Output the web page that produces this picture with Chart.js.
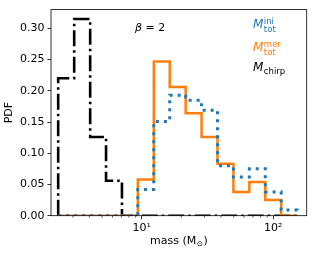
<!DOCTYPE html>
<html lang="en">
<head>
  <meta charset="UTF-8">
  <title>Mass PDF</title>
  <script src="https://cdn.jsdelivr.net/npm/chart.js"></script>
  <style>
    html, body { margin: 0; padding: 0; background: #fff; }
  </style>
</head>
<body>
<canvas id="massPdf" width="315" height="253"></canvas>
<script>
// log-spaced bin edges (mass)
const binEdges = [2.32, 3.07, 4.06, 5.36, 7.08, 9.35, 12.36, 16.33, 21.58, 28.51, 37.67, 49.78, 65.77, 86.90, 114.8, 151.7];
// pdf per bin
const pdfIni   = [0, 0, 0, 0, 0, 0.042, 0.151, 0.193, 0.185, 0.169, 0.080, 0.062, 0.075, 0.038, 0.009];
const pdfMer   = [0, 0, 0, 0, 0, 0.058, 0.247, 0.206, 0.164, 0.126, 0.083, 0.038, 0.054, 0.025, 0];
const pdfChirp = [0.220, 0.315, 0.126, 0.056, 0, 0, 0, 0, 0, 0, 0, 0, 0, 0, 0];
const yTicks = [0, 0.05, 0.10, 0.15, 0.20, 0.25, 0.30];
const xMajor = [10, 100];
const xMajorLabels = ['10\u00b9', '10\u00b2'];
const xMinor = [3, 4, 5, 6, 7, 8, 9, 20, 30, 40, 50, 60, 70, 80, 90];

const BLUE = '#1f77b4', ORANGE = '#ff7f0e';
const FONT = 'DejaVu Sans';

// histtype='step' style outline
function stepPoints(vals) {
  const pts = [{ x: binEdges[0], y: 0 }];
  vals.forEach((v, i) => pts.push({ x: binEdges[i], y: v }));
  pts.push({ x: binEdges[binEdges.length - 1], y: 0 });
  return pts;
}

// frame + minor ticks
const framePlugin = {
  id: 'frame',
  afterDraw(chart) {
    const { ctx, chartArea: a, scales } = chart;
    ctx.save();
    ctx.strokeStyle = '#000';
    ctx.lineWidth = 0.8;
    ctx.strokeRect(a.left, a.top, a.right - a.left, a.bottom - a.top);
    ctx.lineWidth = 0.6;
    xMinor.forEach(v => {
      const px = scales.x.getPixelForValue(v);
      ctx.beginPath();
      ctx.moveTo(px, a.bottom);
      ctx.lineTo(px, a.bottom + 2);
      ctx.stroke();
    });
    ctx.restore();
  }
};

// annotation text, legend labels, x title
function mathLabel(ctx, x, y, color, sup, sub) {
  ctx.fillStyle = color;
  ctx.font = 'italic 12px ' + FONT;
  ctx.fillText('M', x, y);
  const w = ctx.measureText('M').width + 0.5;
  ctx.font = '8.5px ' + FONT;
  if (sup) ctx.fillText(sup, x + w, y - 4);
  if (sub) ctx.fillText(sub, x + w, y + (sup ? 4 : 2.5));
}

const textPlugin = {
  id: 'texts',
  afterDraw(chart) {
    const { ctx, chartArea: a } = chart;
    ctx.save();
    ctx.textBaseline = 'alphabetic';
    ctx.textAlign = 'left';
    // beta = 2
    ctx.fillStyle = '#000';
    ctx.font = 'italic 11px ' + FONT;
    ctx.fillText('\u03b2', 135, 31);
    const bw = ctx.measureText('\u03b2').width;
    ctx.font = '11px ' + FONT;
    ctx.fillText(' = 2', 135 + bw, 31);
    // legend
    mathLabel(ctx, 253, 27.5, BLUE, 'ini', 'tot');
    mathLabel(ctx, 253, 50.5, ORANGE, 'mer', 'tot');
    mathLabel(ctx, 253, 71, '#000', null, 'chirp');
    // x axis title
    ctx.fillStyle = '#000';
    ctx.font = '11px ' + FONT;
    const t1 = 'mass (M', t2 = '\u2299', t3 = ')';
    const w1 = ctx.measureText(t1).width, w3 = ctx.measureText(t3).width;
    ctx.font = '7.5px ' + FONT;
    const w2 = ctx.measureText(t2).width + 1;
    const x0 = (a.left + a.right) / 2 - (w1 + w2 + w3) / 2;
    const yb = 244;
    ctx.font = '11px ' + FONT;
    ctx.fillText(t1, x0, yb);
    ctx.font = '7.5px ' + FONT;
    ctx.fillText(t2, x0 + w1 + 0.5, yb + 2);
    ctx.font = '11px ' + FONT;
    ctx.fillText(t3, x0 + w1 + w2, yb);
    ctx.restore();
  }
};

new Chart(document.getElementById('massPdf').getContext('2d'), {
  type: 'line',
  data: {
    datasets: [
      {
        label: 'ini', data: stepPoints(pdfIni), stepped: true, order: 0,
        borderColor: BLUE, borderWidth: 3, borderDash: [3, 5], borderCapStyle: 'butt',
        pointRadius: 0, fill: false
      },
      {
        label: 'mer', data: stepPoints(pdfMer), stepped: true, order: 1,
        borderColor: ORANGE, borderWidth: 2.5, borderJoinStyle: 'miter',
        pointRadius: 0, fill: false
      },
      {
        label: 'chirp', data: stepPoints(pdfChirp), stepped: true, order: 2,
        borderColor: '#000', borderWidth: 2.6, borderDash: [16, 4, 2.5, 4], borderCapStyle: 'butt',
        pointRadius: 0, fill: false
      }
    ]
  },
  options: {
    responsive: false,
    devicePixelRatio: 1,
    animation: false,
    layout: { padding: { left: 0, right: 8.3, top: 7.5, bottom: 0 } },
    plugins: { legend: { display: false }, tooltip: { enabled: false } },
    scales: {
      x: {
        type: 'logarithmic', min: 2.046, max: 179.4,
        afterBuildTicks: s => { s.ticks = xMajor.map(v => ({ value: v })); },
        afterFit: s => { s.height = 37.3; },
        grid: { display: true, drawOnChartArea: false, tickLength: 3.5, tickWidth: 0.8, tickColor: '#000' },
        border: { display: false },
        ticks: {
          color: '#000', font: { family: FONT, size: 11 }, padding: 2,
          maxRotation: 0, autoSkip: false,
          callback: v => { const i = xMajor.indexOf(v); return i >= 0 ? xMajorLabels[i] : ''; }
        }
      },
      y: {
        min: 0, max: 0.33,
        afterBuildTicks: s => { s.ticks = yTicks.map(v => ({ value: v })); },
        afterFit: s => { s.width = 51; },
        grid: { display: true, drawOnChartArea: false, tickLength: 3.5, tickWidth: 0.8, tickColor: '#000' },
        border: { display: false },
        title: { display: true, text: 'PDF', color: '#000', font: { family: FONT, size: 11 }, padding: { top: 3, bottom: 0 } },
        ticks: { color: '#000', font: { family: FONT, size: 11 }, padding: 3, callback: v => v.toFixed(2) }
      }
    }
  },
  plugins: [framePlugin, textPlugin]
});
</script>
</body>
</html>
